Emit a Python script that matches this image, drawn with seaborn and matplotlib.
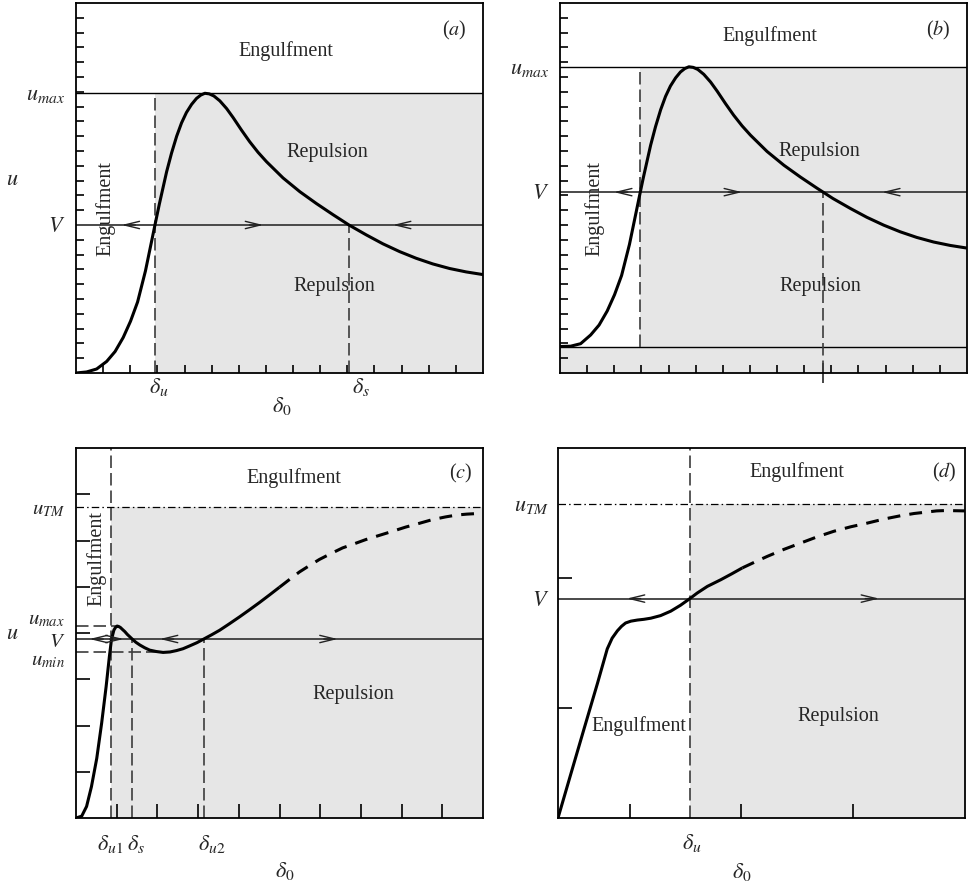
import numpy as np
import pandas as pd
import matplotlib
matplotlib.use("Agg")
import matplotlib.pyplot as plt
import seaborn as sns
from matplotlib.transforms import ScaledTranslation

sns.set_theme(style="white")
plt.rcParams["font.family"] = ["Liberation Serif", "DejaVu Serif"]
plt.rcParams["mathtext.fontset"] = "stix"

# ---------------- data ----------------
# panel (a)
a_x = [0, 0.39, 0.76, 1.13, 1.44, 1.74, 2.01, 2.27, 2.56, 2.82, 2.91, 3.07, 3.34, 3.52,
       3.71, 3.89, 4.07, 4.26, 4.44, 4.60, 4.75, 4.91, 5.08, 5.30, 5.55, 5.79, 6.10, 6.40,
       6.71, 7.02, 7.63, 8.25, 8.86, 9.47, 10.06, 10.70, 11.31, 11.93, 12.54, 13.15, 13.77,
       14.38, 15.0]
a_u = [0, 0.07, 0.27, 0.78, 1.45, 2.40, 3.50, 4.80, 6.90, 9.20, 10.0, 11.40, 13.60, 14.85,
       16.00, 16.90, 17.60, 18.15, 18.55, 18.78, 18.90, 18.86, 18.72, 18.39, 17.87, 17.26,
       16.41, 15.63, 14.91, 14.28, 13.18, 12.25, 11.45, 10.70, 10.0, 9.33, 8.73, 8.20, 7.75,
       7.37, 7.06, 6.83, 6.65]
a_umax, a_V = 18.9, 10.0
a_du, a_ds = 2.91, 10.06
a_arrow_x = [1.68, 6.90, 11.68]
a_arrow_dir = [-1, 1, -1]

# panel (b)
b_x = a_x
b_u = [1.79, 1.81, 1.98, 2.57, 3.24, 4.19, 5.29, 6.59, 8.69, 10.99, 11.79, 13.19, 15.39,
       16.64, 17.79, 18.69, 19.39, 19.94, 20.34, 20.57, 20.69, 20.65, 20.51, 20.18, 19.66,
       19.05, 18.20, 17.42, 16.70, 16.07, 14.97, 14.04, 13.24, 12.49, 11.79, 11.12, 10.52,
       9.99, 9.54, 9.16, 8.85, 8.62, 8.44]
b_umax, b_V, b_base = 20.69, 12.22, 1.79
b_du, b_ds = 2.95, 9.70
b_arrow_x = [1.99, 6.71, 11.87]
b_arrow_dir = [-1, 1, -1]

# panel (c)
c_x_solid = [0, 0.14, 0.26, 0.38, 0.51, 0.63, 0.74, 0.82, 0.87, 0.93, 0.97, 1.01, 1.05,
             1.09, 1.15, 1.20, 1.26, 1.32, 1.38, 1.47, 1.57, 1.69, 1.81, 1.97, 2.14, 2.31,
             2.47, 2.63, 2.79, 2.97, 3.14, 3.33, 3.53, 3.77, 4.02, 4.26, 4.51, 4.75, 5.00]
c_u_solid = [0, 0.04, 0.25, 0.68, 1.29, 2.05, 2.84, 3.49, 3.85, 4.06, 4.12, 4.15, 4.14,
             4.12, 4.07, 4.03, 3.97, 3.92, 3.87, 3.80, 3.74, 3.68, 3.63, 3.60, 3.58, 3.59,
             3.62, 3.66, 3.72, 3.79, 3.87, 3.96, 4.06, 4.20, 4.35, 4.50, 4.66, 4.82, 4.99]
c_x_dash = [5.00, 5.25, 5.49, 5.74, 5.98, 6.27, 6.55, 6.84, 7.12, 7.45, 7.78, 8.10, 8.43,
            8.75, 9.08, 9.35, 9.60, 9.80, 10.0]
c_u_dash = [4.99, 5.16, 5.32, 5.46, 5.59, 5.72, 5.84, 5.93, 6.02, 6.11, 6.20, 6.29, 6.37,
            6.45, 6.51, 6.55, 6.57, 6.58, 6.59]
c_uTM, c_umax, c_V, c_umin = 6.72, 4.15, 3.87, 3.58
c_xmax_peak, c_xmin_valley = 1.01, 2.14
c_du1, c_ds, c_du2 = 0.86, 1.38, 3.14
c_arrow_x = [0.33, 1.17, 2.06, 6.43]
c_arrow_dir = [-1, 1, -1, 1]

# panel (d)
d_x_solid = [0, 0.31, 0.64, 0.97, 1.21, 1.33, 1.46, 1.56, 1.66, 1.79, 1.95, 2.11, 2.28,
             2.52, 2.77, 3.01, 3.24, 3.42, 3.67, 4.00, 4.27, 4.53]
d_u_solid = [0, 1.17, 2.41, 3.64, 4.57, 4.86, 5.06, 5.18, 5.27, 5.32, 5.35, 5.37, 5.40,
             5.47, 5.59, 5.75, 5.93, 6.08, 6.26, 6.44, 6.60, 6.76]
d_x_dash = [4.53, 4.84, 5.14, 5.55, 5.96, 6.37, 6.78, 7.19, 7.60, 8.01, 8.42, 8.75, 9.07,
            9.30, 9.52, 10.0]
d_u_dash = [6.76, 6.92, 7.07, 7.26, 7.43, 7.60, 7.75, 7.87, 7.97, 8.08, 8.17, 8.23, 8.27,
            8.30, 8.31, 8.30]
d_uTM, d_V = 8.50, 5.93
d_du = 3.24
d_xticks = [1.77, 4.50, 7.26]
d_yticks = [2.97, 6.49]
d_arrow_x = [1.69, 7.89]
d_arrow_dir = [-1, 1]

# ---------------- styles ----------------
GRAY = "#e6e6e6"
LINEC = "#3c3c3c"
FS = 14.5
FSM = 16

fig = plt.figure(figsize=(9.68, 8.86), dpi=100)
W, H = 968, 886


def make_ax(l, t, w, h):
    return fig.add_axes([l / W, 1 - (t + h) / H, w / W, h / H])


axa = make_ax(76, 3, 407, 370)
axb = make_ax(560, 3, 407, 370)
axc = make_ax(76, 448, 407, 370)
axd = make_ax(558, 448, 407, 370)

for ax in (axa, axb, axc, axd):
    ax.set_facecolor("white")
    for s in ax.spines.values():
        s.set_color("black")
        s.set_linewidth(1.3)
        s.set_zorder(10)


def curve(ax, x, y, dashed=False):
    df = pd.DataFrame({"x": x, "y": y})
    sns.lineplot(data=df, x="x", y="y", ax=ax, color="black", linewidth=2.2,
                 sort=False, estimator=None, zorder=5)
    ln = ax.lines[-1]
    ln.set_solid_capstyle("butt")
    ln.set_solid_joinstyle("round")
    if dashed:
        ln.set_dashes((4.2, 3.0))
        ln.set_dash_capstyle("butt")
    ax.set_xlabel("")
    ax.set_ylabel("")


def vdash(ax, x, y0, y1):
    ax.vlines(x, y0, y1, colors=LINEC, linewidth=1.2, linestyles=[(0, (7.5, 3.0))], zorder=4)


def hdash(ax, y, x0, x1):
    ax.hlines(y, x0, x1, colors=LINEC, linewidth=1.2, linestyles=[(0, (7.5, 3.0))], zorder=4)


def vline_arrows(ax, V, xs, dirs):
    ax.axhline(V, color=LINEC, linewidth=1.3, zorder=3)
    for x, d in zip(xs, dirs):
        ax.annotate("", xy=(x, V), xytext=(-d * 10, 0), textcoords="offset points",
                    arrowprops=dict(arrowstyle="->,head_length=0.9,head_width=0.22",
                                    color="#222222", lw=1.0, shrinkA=0, shrinkB=0),
                    zorder=6)


def ticks(ax, xminor, yminor, xmaj, xlab, ymaj, ylab, mlen, yfs=FSM):
    ax.set_xticks(xminor, minor=True)
    ax.set_yticks(yminor, minor=True)
    ax.set_xticks(xmaj)
    ax.set_xticklabels(xlab, fontsize=FSM)
    ax.set_yticks(ymaj)
    ax.set_yticklabels(ylab, fontsize=yfs)
    ax.tick_params(which="minor", bottom=True, left=True, direction="in",
                   length=mlen, width=1.2, color="black")
    ax.tick_params(which="major", bottom=True, left=True, length=0)


def shift_labels(labels, dxs_px, dys_px):
    for lab, dx, dy in zip(labels, dxs_px, dys_px):
        lab.set_transform(lab.get_transform() +
                          ScaledTranslation(dx / 100, dy / 100, fig.dpi_scale_trans))


def dtext(ax, x, y, s, **kw):
    ax.text(x, y, s, fontsize=FS, ha="center", va="center", zorder=7, **kw)


# ---------------- panel (a) ----------------
ax = axa
ax.fill_between([a_du, 15], 0, a_umax, color=GRAY, linewidth=0, zorder=0)
ax.axhline(a_umax, color="black", linewidth=1.0, zorder=3)
vline_arrows(ax, a_V, a_arrow_x, a_arrow_dir)
vdash(ax, a_du, 0, a_umax)
vdash(ax, a_ds, 0, a_V)
curve(ax, a_x, a_u)
ax.set_xlim(0, 15)
ax.set_ylim(0, 25)
ticks(ax, list(range(1, 15)), list(range(1, 25)), [a_du, a_ds],
      [r"$\delta_u$", r"$\delta_s$"], [a_umax, a_V], [r"$u_{max}$", r"$V$"], 6)
ax.tick_params(axis="y", which="major", pad=8)
ax.tick_params(axis="x", which="major", pad=2)
shift_labels(ax.get_xticklabels(), [4, 12], [0, 0])
ax.set_xlabel(r"$\delta_0$", fontsize=FSM)
ax.xaxis.set_label_coords(0.506, -0.089)
ax.xaxis.label.set_va("center")
ax.set_ylabel(r"$u$", fontsize=FSM, rotation=0)
ax.yaxis.set_label_coords(-0.157, 0.52)
ax.yaxis.label.set_va("center")
dtext(ax, 7.75, 21.75, "Engulfment")
dtext(ax, 9.28, 14.9, "Repulsion")
dtext(ax, 9.52, 5.87, "Repulsion")
dtext(ax, 1.10, 11.1, "Engulfment", rotation=90)
dtext(ax, 13.95, 23.14, "($a$)")

# ---------------- panel (b) ----------------
ax = axb
ax.fill_between([b_du, 15], 0, b_umax, color=GRAY, linewidth=0, zorder=0)
ax.fill_between([0, b_du], 0, b_base, color=GRAY, linewidth=0, zorder=0)
ax.axhline(b_umax, color="black", linewidth=1.0, zorder=3)
ax.axhline(b_base, color="black", linewidth=1.0, zorder=3)
vline_arrows(ax, b_V, b_arrow_x, b_arrow_dir)
vdash(ax, b_du, b_base, b_umax)
vdash(ax, b_ds, 0, b_V)
curve(ax, b_x, b_u)
ax.set_xlim(0, 15)
ax.set_ylim(0, 25)
ticks(ax, list(range(1, 15)), list(range(1, 25)), [b_ds], [""],
      [b_umax, b_V], [r"$u_{max}$", r"$V$"], 6)
ax.tick_params(axis="x", which="major", direction="inout", length=14, width=1.2)
ax.tick_params(axis="y", which="major", pad=8)
dtext(ax, 7.75, 22.76, "Engulfment")
dtext(ax, 9.57, 14.98, "Repulsion")
dtext(ax, 9.60, 5.83, "Repulsion")
dtext(ax, 1.28, 11.1, "Engulfment", rotation=90)
dtext(ax, 13.95, 23.14, "($b$)")

# ---------------- panel (c) ----------------
ax = axc
ax.fill_between([c_du1, 10], 0, c_uTM, color=GRAY, linewidth=0, zorder=0)
ax.axhline(c_uTM, color="black", linewidth=0.9, dashes=(6, 2.5, 1.2, 2.5), zorder=3)
vline_arrows(ax, c_V, c_arrow_x, c_arrow_dir)
vdash(ax, c_du1, 0, 8)
vdash(ax, c_ds, 0, c_V)
vdash(ax, c_du2, 0, c_V)
hdash(ax, c_umax, 0, c_xmax_peak)
hdash(ax, c_umin, 0, c_xmin_valley)
curve(ax, c_x_solid, c_u_solid)
curve(ax, c_x_dash, c_u_dash, dashed=True)
ax.set_xlim(0, 10)
ax.set_ylim(0, 8)
ticks(ax, list(range(1, 10)), list(range(1, 8)), [c_du1, c_ds, c_du2],
      [r"$\delta_{u1}$", r"$\delta_s$", r"$\delta_{u2}$"],
      [c_uTM, c_umax, c_V, c_umin], [r"$u_{TM}$", r"$u_{max}$", r"$V$", r"$u_{min}$"], 10,
      yfs=15)
ax.tick_params(axis="y", which="major", pad=8)
ax.tick_params(axis="x", which="major", pad=11)
shift_labels(ax.get_yticklabels(), [0, 0, 0, 0], [0, 9, -1, -6])
shift_labels(ax.get_xticklabels(), [-1, 4, 8], [0, 0, 0])
ax.set_xlabel(r"$\delta_0$", fontsize=FSM)
ax.xaxis.set_label_coords(0.513, -0.143)
ax.xaxis.label.set_va("center")
ax.set_ylabel(r"$u$", fontsize=FSM, rotation=0)
ax.yaxis.set_label_coords(-0.157, 0.497)
ax.yaxis.label.set_va("center")
dtext(ax, 5.35, 7.34, "Engulfment")
dtext(ax, 6.82, 2.68, "Repulsion")
dtext(ax, 0.51, 5.61, "Engulfment", rotation=90)
dtext(ax, 9.44, 7.45, "($c$)")

# ---------------- panel (d) ----------------
ax = axd
ax.fill_between([d_du, 10], 0, d_uTM, color=GRAY, linewidth=0, zorder=0)
ax.axhline(d_uTM, color="black", linewidth=0.9, dashes=(6, 2.5, 1.2, 2.5), zorder=3)
vline_arrows(ax, d_V, d_arrow_x, d_arrow_dir)
vdash(ax, d_du, 0, 10)
curve(ax, d_x_solid, d_u_solid)
curve(ax, d_x_dash, d_u_dash, dashed=True)
ax.set_xlim(0, 10)
ax.set_ylim(0, 10)
ticks(ax, d_xticks, d_yticks, [d_du], [r"$\delta_u$"],
      [d_uTM, d_V], [r"$u_{TM}$", r"$V$"], 10)
ax.tick_params(axis="y", which="major", pad=6)
ax.tick_params(axis="x", which="major", pad=10)
shift_labels(ax.get_xticklabels(), [2], [0])
ax.set_xlabel(r"$\delta_0$", fontsize=FSM)
ax.xaxis.set_label_coords(0.452, -0.146)
ax.xaxis.label.set_va("center")
dtext(ax, 5.88, 9.34, "Engulfment")
dtext(ax, 1.98, 2.48, "Engulfment")
dtext(ax, 6.89, 2.75, "Repulsion")
dtext(ax, 9.48, 9.34, "($d$)")

fig.savefig("out.png", dpi=100)
